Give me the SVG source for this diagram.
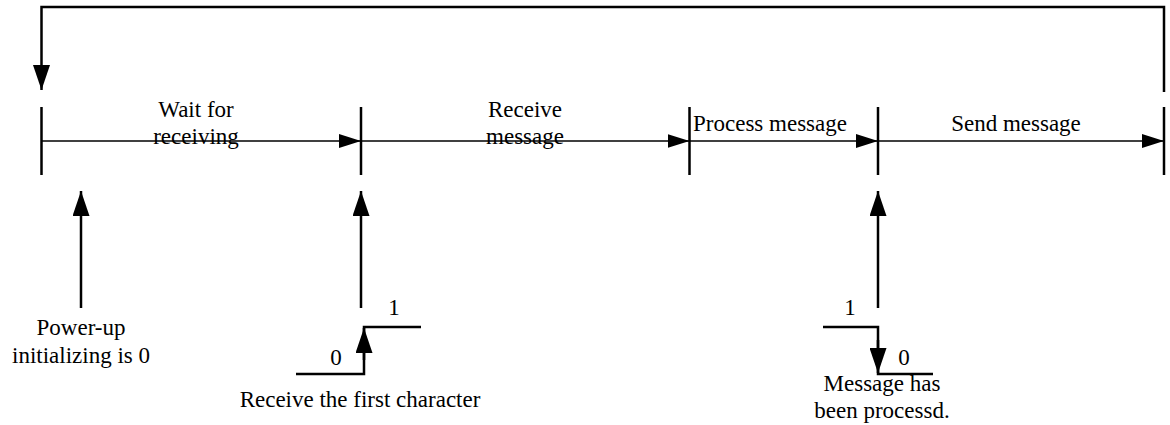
<svg xmlns="http://www.w3.org/2000/svg" width="1170" height="425" viewBox="0 0 1170 425">
<style>
text{font-family:'Liberation Serif',serif;font-size:23px;fill:#000;text-anchor:middle}
.thin{stroke:#000;stroke-width:1.5;fill:none}
.thick{stroke:#000;stroke-width:2.5;fill:none}
</style>
<defs>
<marker id="ah" markerUnits="userSpaceOnUse" markerWidth="22" markerHeight="14" refX="22" refY="7" orient="auto"><path d="M0,0 L22,7 L0,14 z" fill="#000"/></marker>
<marker id="av" markerUnits="userSpaceOnUse" markerWidth="25" markerHeight="17" refX="25" refY="8.5" orient="auto"><path d="M0,0 L25,8.5 L0,17 z" fill="#000"/></marker>
</defs>
<rect width="1170" height="425" fill="#fff"/>
<g id="ticks">
<line class="thick" x1="41.5" y1="107" x2="41.5" y2="175"/>
<line class="thick" x1="361" y1="107" x2="361" y2="175"/>
<line class="thick" x1="689.5" y1="107" x2="689.5" y2="175"/>
<line class="thick" x1="878" y1="107" x2="878" y2="175"/>
<line class="thick" x1="1164" y1="107" x2="1164" y2="175"/>
</g>
<g font-family="Liberation Serif, serif">
<g id="wait"><text x="196" y="117">Wait for</text><text x="196" y="144">receiving</text></g>
<g id="receive"><text x="525" y="117">Receive</text><text x="525" y="144">message</text></g>
<g id="process"><text x="770" y="131">Process message</text></g>
<g id="send"><text x="1016" y="131">Send message</text></g>
<g id="powerup"><text x="81" y="335">Power-up</text><text x="81" y="363">initializing is 0</text></g>
<g id="first-char"><text x="336" y="365">0</text><text x="394" y="315">1</text><text x="360" y="407">Receive the first character</text></g>
<g id="processed"><text x="850" y="315">1</text><text x="904" y="365">0</text><text x="882" y="391">Message has</text><text x="882" y="418">been processd.</text></g>
</g>
<g id="connectors">
<path class="thick" d="M1164,92 V7 H41.5 V90" marker-end="url(#av)"/>
<line class="thin" x1="41.5" y1="141" x2="361" y2="141" marker-end="url(#ah)"/>
<line class="thin" x1="361" y1="141" x2="689.5" y2="141" marker-end="url(#ah)"/>
<line class="thin" x1="689.5" y1="141" x2="878" y2="141" marker-end="url(#ah)"/>
<line class="thin" x1="878" y1="141" x2="1164" y2="141" marker-end="url(#ah)"/>
<line class="thick" x1="81" y1="308" x2="81" y2="191" marker-end="url(#av)"/>
<line class="thick" x1="361" y1="308" x2="361" y2="191" marker-end="url(#av)"/>
<line class="thick" x1="878" y1="308" x2="878" y2="191" marker-end="url(#av)"/>
<path class="thick" d="M296,374 H364 V327 H421"/>
<line class="thick" x1="364" y1="360" x2="364" y2="328" marker-end="url(#av)"/>
<path class="thick" d="M823,327 H878 V374 H933"/>
<line class="thick" x1="878" y1="340" x2="878" y2="373" marker-end="url(#av)"/>
</g>
</svg>
